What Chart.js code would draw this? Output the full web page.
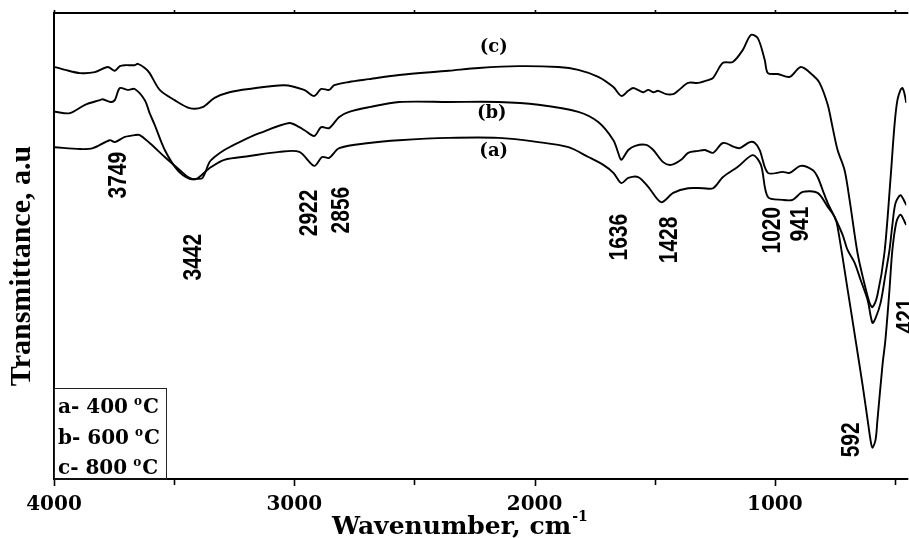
<!DOCTYPE html>
<html><head><meta charset="utf-8">
<script src="https://cdn.jsdelivr.net/npm/chart.js@4.4.1/dist/chart.umd.min.js"></script>
<style>html,body{margin:0;padding:0;background:#fff;}canvas{display:block;}</style>
</head><body>
<canvas id="chart" width="909" height="538"></canvas>
<script>
// ---------- data ----------
const tickValues = [4000, 3500, 3000, 2500, 2000, 1500, 1000, 500];

// (a) 400 °C
const waveA = [3996,3892,3838,3768,3747,3705,3664,3643,3602,3539,3477,3436,3407,3353,3291,3187,3062,2979,2917,2884,2855,2813,2689,2564,2357,2150,1984,1859,1776,1714,1672,1639,1610,1569,1527,1473,1423,1361,1299,1257,1216,1154,1092,1058,1029,967,926,884,822,780,751,739,697,664,635,614,602,594,581,573,552,540,523,511,494,477,457,453];
const transA = [71.2,70.8,71.0,72.7,72.3,73.4,73.8,73.8,72.1,69.1,66.3,64.6,64.4,66.7,68.5,69.3,70.2,70.2,67.2,69.1,68.9,71.0,72.1,72.7,73.2,73.2,72.3,71.2,69.1,67.4,65.7,63.5,64.6,64.8,62.7,59.4,61.4,62.4,62.4,62.4,64.8,67.0,69.5,67.4,60.5,59.9,59.9,61.6,61.4,58.4,56.2,54.1,40.6,29.8,20.2,12.7,8.4,6.7,8.4,12.7,24.5,29.8,40.6,49.1,55.2,56.7,54.9,54.5];

// (b) 600 °C
const waveB = [3996,3934,3871,3809,3797,3764,3747,3726,3693,3664,3622,3602,3581,3539,3486,3436,3407,3382,3353,3332,3291,3228,3145,3021,2979,2959,2917,2888,2855,2813,2772,2689,2564,2357,2150,1984,1818,1735,1672,1652,1639,1610,1581,1536,1506,1465,1432,1390,1361,1320,1291,1257,1216,1166,1146,1104,1083,1063,1029,967,938,892,843,822,801,780,751,718,697,668,643,614,594,581,560,540,523,511,498,477,457,453];
const transB = [78.8,78.5,80.3,81.3,81.5,80.9,81.3,83.9,83.5,83.7,81.3,78.5,76.0,70.6,66.3,64.4,64.4,64.6,68.0,69.1,70.6,72.3,74.2,76.4,75.5,74.9,73.6,75.5,75.3,77.7,78.8,79.8,80.9,80.9,80.9,80.3,78.8,76.6,72.7,70.0,68.5,70.6,71.5,71.7,70.6,68.0,67.4,68.5,70.0,70.4,70.6,70.0,72.1,71.2,71.0,72.3,72.1,70.6,65.7,65.9,65.7,67.2,66.3,64.8,62.0,59.2,56.2,52.4,49.1,46.4,42.7,38.4,33.5,34.5,37.8,43.8,49.1,54.5,59.2,60.9,59.2,58.8];

// (c) 800 °C
const waveC = [3996,3954,3892,3830,3776,3747,3726,3705,3664,3651,3622,3602,3560,3498,3436,3382,3332,3270,3187,3042,2959,2917,2888,2855,2834,2772,2689,2564,2357,2233,2067,1901,1818,1735,1672,1639,1610,1589,1548,1527,1506,1486,1453,1423,1403,1361,1320,1278,1257,1216,1175,1133,1100,1071,1042,1029,988,938,892,843,814,780,760,739,710,689,656,631,606,594,573,544,519,502,490,477,469,461,453];
const transC = [88.4,87.8,87.1,87.3,88.4,87.6,88.6,88.8,88.8,89.1,88.2,87.1,83.5,81.3,79.6,79.8,81.8,83.0,83.7,84.5,83.5,82.2,83.7,83.5,84.5,85.2,85.8,86.7,87.6,88.2,88.6,88.4,87.8,86.3,84.1,82.2,83.3,83.9,83.0,83.5,83.0,83.3,82.6,82.6,83.3,85.0,85.0,85.6,86.1,89.3,89.5,92.1,95.3,94.6,89.9,87.1,86.9,86.3,88.4,86.7,85.0,80.3,75.5,70.6,66.3,59.9,48.5,42.7,37.8,36.9,39.5,48.5,64.2,76.0,81.3,83.5,83.9,82.8,80.7];

const seriesLabels = ['(a)', '(b)', '(c)'];
const legendTemps = ['a- 400 ', 'b- 600 ', 'c- 800 '];
const peakLabels = ['3749', '3442', '2922', '2856', '1636', '1428', '1020', '941', '592', '421'];

// ---------- annotation anchors (data units) ----------
const seriesLabelAnchor = [[2170, 70.4], [2178, 78.5], [2170, 92.7]];
const peakAnchor = [[3730,65.2],[3419,47.6],[2934,57.1],[2801,57.7],[1643,51.9],[1436,51.3],[1009,53.4],[892,54.7],[677,8.4],[449,35.0]];

const toXY = (w, t) => w.map((v, i) => ({x: v, y: t[i]}));

const decor = {
  id: 'decor',
  afterDraw(chart) {
    const {ctx, chartArea: a, scales: {x, y}} = chart;
    ctx.save();
    // frame
    ctx.strokeStyle = '#000';
    ctx.lineWidth = 2;
    ctx.beginPath();
    ctx.moveTo(a.right + 2, a.top); ctx.lineTo(a.left, a.top);
    ctx.lineTo(a.left, a.bottom); ctx.lineTo(a.right + 2, a.bottom);
    ctx.stroke();
    // ticks
    ctx.lineWidth = 1.6;
    tickValues.forEach(v => {
      const px = Math.round(x.getPixelForValue(v)) + 0.5;
      const major = v % 1000 === 0;
      ctx.beginPath();
      ctx.moveTo(px, a.bottom); ctx.lineTo(px, a.bottom + (major ? 7 : 6));
      ctx.moveTo(px, a.top); ctx.lineTo(px, a.top - 3);
      ctx.stroke();
    });
    ctx.fillStyle = '#000';
    // y title
    ctx.save();
    ctx.translate(22, 266);
    ctx.rotate(-Math.PI / 2);
    ctx.font = 'bold 30px "Liberation Serif"';
    ctx.textAlign = 'center'; ctx.textBaseline = 'middle';
    ctx.fillText('Transmittance, a.u', 0, 0);
    ctx.restore();
    // x title with superscript
    ctx.textAlign = 'left'; ctx.textBaseline = 'alphabetic';
    ctx.font = 'bold 25px "DejaVu Serif"';
    const xt = 'Wavenumber, cm';
    const xtx = 332;
    ctx.fillText(xt, xtx, 534);
    const wxt = ctx.measureText(xt).width;
    ctx.font = 'bold 14px "DejaVu Serif"';
    ctx.fillText('-1', xtx + wxt + 1, 521);
    // series labels
    ctx.font = 'bold 18px "DejaVu Serif"';
    ctx.textAlign = 'center'; ctx.textBaseline = 'middle';
    seriesLabels.forEach((t, i) => {
      ctx.fillText(t, x.getPixelForValue(seriesLabelAnchor[i][0]), y.getPixelForValue(seriesLabelAnchor[i][1]));
    });
    // peak labels (rotated)
    ctx.font = 'bold 21px "Liberation Sans"';
    peakLabels.forEach((t, i) => {
      ctx.save();
      ctx.translate(x.getPixelForValue(peakAnchor[i][0]), y.getPixelForValue(peakAnchor[i][1]));
      ctx.scale(1.2, 1);
      ctx.rotate(-Math.PI / 2);
      ctx.fillText(t, 0, 0);
      ctx.restore();
    });
    // legend box
    ctx.lineWidth = 1;
    ctx.strokeStyle = '#222';
    ctx.strokeRect(a.left + 0.5, 388.5, 112, a.bottom - 388.5);
    ctx.textAlign = 'left'; ctx.textBaseline = 'alphabetic';
    const base = [413, 444, 474];
    legendTemps.forEach((t, i) => {
      ctx.font = 'bold 20px "DejaVu Serif"';
      const x0 = 58;
      ctx.fillText(t, x0, base[i]);
      const w1 = ctx.measureText(t).width;
      ctx.font = 'bold 12px "DejaVu Serif"';
      ctx.fillText('o', x0 + w1 - 1, base[i] - 8);
      const wo = ctx.measureText('o').width;
      ctx.font = 'bold 20px "DejaVu Serif"';
      ctx.fillText('C', x0 + w1 + wo, base[i]);
    });
    ctx.restore();
  }
};

const lineStyle = {borderColor: '#000', borderWidth: 1.9, pointRadius: 0, fill: false, tension: 0.3};

new Chart(document.getElementById('chart'), {
  type: 'line',
  data: {
    datasets: [
      Object.assign({label: seriesLabels[0], data: toXY(waveA, transA)}, lineStyle),
      Object.assign({label: seriesLabels[1], data: toXY(waveB, transB)}, lineStyle),
      Object.assign({label: seriesLabels[2], data: toXY(waveC, transC)}, lineStyle)
    ]
  },
  options: {
    responsive: false,
    devicePixelRatio: 1,
    animation: false,
    layout: {padding: {left: 54, right: 0, top: 13, bottom: 0}},
    plugins: {legend: {display: false}, tooltip: {enabled: false}},
    scales: {
      x: {
        type: 'linear', reverse: true, min: 453, max: 4000, position: 'bottom',
        afterBuildTicks: s => { s.ticks = tickValues.map(v => ({value: v})); },
        afterFit: s => { s.height = 59; },
        grid: {display: false, drawTicks: false},
        border: {display: false},
        ticks: {
          autoSkip: false, maxRotation: 0, minRotation: 0, padding: 14, color: '#000',
          font: {family: '"DejaVu Serif"', size: 20, weight: 'bold'},
          callback: v => (v % 1000 === 0 ? String(v) : '')
        }
      },
      y: {type: 'linear', display: false, min: 0, max: 100}
    }
  },
  plugins: [decor]
});
</script>
</body></html>
